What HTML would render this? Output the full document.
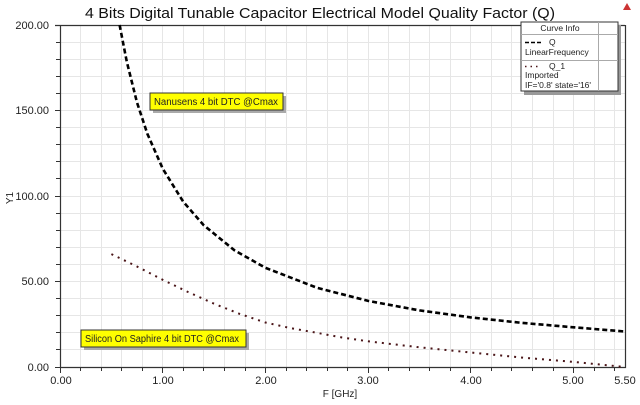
<!DOCTYPE html>
<html><head><style>
body{margin:0;background:#fff;}
svg text{font-family:"Liberation Sans",Arial,sans-serif;}
</style></head><body>
<svg width="640" height="400" xmlns="http://www.w3.org/2000/svg">
<rect width="640" height="400" fill="#fff"/>
<g stroke="#e6e6e6" stroke-width="1">
<path d="M80.5 25V367M101.5 25V367M121.5 25V367M142.5 25V367M162.5 25V367M183.5 25V367M203.5 25V367M224.5 25V367M245.5 25V367M265.5 25V367M286.5 25V367M306.5 25V367M327.5 25V367M347.5 25V367M368.5 25V367M388.5 25V367M409.5 25V367M429.5 25V367M450.5 25V367M470.5 25V367M491.5 25V367M511.5 25V367M532.5 25V367M553.5 25V367M573.5 25V367M594.5 25V367M614.5 25V367"/>
<path d="M60 42.5H625M60 59.5H625M60 76.5H625M60 93.5H625M60 110.5H625M60 127.5H625M60 144.5H625M60 161.5H625M60 178.5H625M60 196.5H625M60 213.5H625M60 230.5H625M60 247.5H625M60 264.5H625M60 281.5H625M60 298.5H625M60 315.5H625M60 332.5H625M60 349.5H625"/>
</g>
<path d="M60.5 25V367.5H625.5V25M55 25.5H625" fill="none" stroke="#333" stroke-width="1.2"/>
<g stroke="#333" stroke-width="1">
<path d="M55 110.5H60M55 196.5H60M55 281.5H60M55 367.5H60M56 42.5H60M56 59.5H60M56 76.5H60M56 93.5H60M56 127.5H60M56 144.5H60M56 161.5H60M56 178.5H60M56 213.5H60M56 230.5H60M56 247.5H60M56 264.5H60M56 298.5H60M56 315.5H60M56 332.5H60M56 349.5H60"/>
<path d="M60.5 367V373M162.5 367V373M265.5 367V373M368.5 367V373M470.5 367V373M573.5 367V373M80.5 367V371M101.5 367V371M121.5 367V371M142.5 367V371M183.5 367V371M203.5 367V371M224.5 367V371M245.5 367V371M286.5 367V371M306.5 367V371M327.5 367V371M347.5 367V371M388.5 367V371M409.5 367V371M429.5 367V371M450.5 367V371M491.5 367V371M511.5 367V371M532.5 367V371M553.5 367V371M594.5 367V371M614.5 367V371"/>
</g>
<text x="320" y="18" font-size="15" text-anchor="middle" fill="#111" textLength="470" lengthAdjust="spacingAndGlyphs">4 Bits Digital Tunable Capacitor  Electrical Model Quality Factor (Q)</text>
<polygon points="627,3 631,10 623,10" fill="#c33"/>
<g font-size="11" fill="#222" text-anchor="end">
<text x="49" y="29">200.00</text><text x="49" y="114">150.00</text><text x="49" y="200">100.00</text><text x="49" y="285">50.00</text><text x="49" y="371">0.00</text>
</g>
<g font-size="11" fill="#222" text-anchor="middle">
<text x="61" y="384">0.00</text><text x="163" y="384">1.00</text><text x="266" y="384">2.00</text><text x="368" y="384">3.00</text><text x="471" y="384">4.00</text><text x="573" y="384">5.00</text><text x="625" y="384">5.50</text>
</g>
<text x="340" y="397" font-size="10" text-anchor="middle" fill="#222">F [GHz]</text>
<text transform="translate(13,198) rotate(-90)" font-size="10" text-anchor="middle" fill="#222">Y1</text>
<polyline fill="none" stroke="#000" stroke-width="2.6" stroke-dasharray="5,3" points="119.6,25 126.8,61.8 137,102.5 147.3,133.6 162.7,168.6 183.2,201.7 203.8,225.3 234.6,250.4 265.4,267.8 316.8,287.7 368.1,300.9 419.5,310.4 470.8,317.4 522.2,322.9 573.5,327.3 624.9,331.5"/>
<polyline fill="none" stroke="#4a1518" stroke-width="2" stroke-dasharray="2,5" points="111.4,254.1 137,266.5 162.7,279.8 188,292 214,303.7 240,314 265.4,322.5 290,328 316.8,332.8 342,337.5 368.1,341.3 419.5,347.3 470.8,352.5 522.2,357.6 573.5,361.9 624.9,367"/>
<rect x="153" y="96" width="133" height="17" fill="#aaa"/>
<rect x="150" y="93" width="133" height="17" fill="#ffff00" stroke="#333" stroke-width="1"/>
<text x="154" y="105" font-size="10" fill="#222" textLength="124" lengthAdjust="spacingAndGlyphs">Nanusens 4 bit DTC @Cmax</text>
<rect x="84" y="333" width="165" height="17" fill="#aaa"/>
<rect x="81" y="330" width="165" height="17" fill="#ffff00" stroke="#333" stroke-width="1"/>
<text x="85" y="342" font-size="10" fill="#222" textLength="154" lengthAdjust="spacingAndGlyphs">Silicon On Saphire 4 bit DTC @Cmax</text>
<rect x="524" y="25" width="97" height="70" fill="#999"/>
<rect x="521" y="22" width="97" height="69" fill="#fff" stroke="#333" stroke-width="1"/>
<path d="M521 34.5H618M521 60.5H618M598.5 22V91" stroke="#aaa" stroke-width="1"/>
<g font-size="8.5" fill="#222">
<text x="560" y="31" text-anchor="middle">Curve Info</text>
<path d="M525 42.5H541" stroke="#000" stroke-width="1.5" stroke-dasharray="4,2"/>
<text x="549" y="45">Q</text>
<text x="525" y="55">LinearFrequency</text>
<path d="M525 66.5H541" stroke="#4a1518" stroke-width="1.5" stroke-dasharray="1.5,4"/>
<text x="549" y="69">Q_1</text>
<text x="525" y="78">Imported</text>
<text x="525" y="88">IF='0.8' state='16'</text>
</g>
</svg>
</body></html>
